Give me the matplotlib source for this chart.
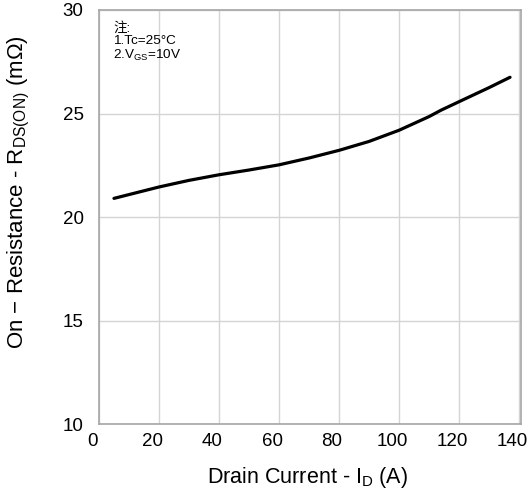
import matplotlib
matplotlib.use("Agg")
import matplotlib.pyplot as plt
import matplotlib.transforms as mtransforms

plt.rcParams['font.family'] = ['Liberation Sans', 'Noto Sans CJK SC', 'DejaVu Sans']
plt.rcParams['mathtext.fontset'] = 'custom'
plt.rcParams['mathtext.rm'] = 'Liberation Sans'
plt.rcParams['mathtext.it'] = 'Liberation Sans'

GRID = "#d4d4d4"
SPINE = "#a6a6a6"

# drain current (A) vs on-resistance (mOhm)
drain_current = [5, 20, 30, 40, 50, 60, 70, 80, 90, 100, 110, 114, 120, 130, 137]
on_resistance = [20.9, 21.45, 21.77, 22.04, 22.27, 22.52, 22.85, 23.22, 23.65, 24.19, 24.85, 25.16, 25.57, 26.25, 26.75]

x_ticks = [0, 20, 40, 60, 80, 100, 120, 140]
y_ticks = [10, 15, 20, 25, 30]

fig = plt.figure(figsize=(5.29, 4.95), dpi=100)
ax = fig.add_axes([0.1871, 0.1434, 0.7969, 0.8364])

ax.plot(drain_current, on_resistance, color="black", lw=2.3, solid_capstyle="round")

ax.set_xlim(0, 140.5)
ax.set_ylim(10, 30)
ax.set_xticks(x_ticks)
ax.set_yticks(y_ticks)
ax.grid(color=GRID, lw=1.0)
ax.set_axisbelow(True)
for s in ax.spines.values():
    s.set_color(SPINE)
    s.set_linewidth(1.2)
ax.tick_params(axis='both', length=0, labelsize=13.5)
ax.tick_params(axis='x', pad=6.5)
ax.tick_params(axis='y', pad=11)

# excel-ish: x tick labels sit a bit left of their gridline
shift = mtransforms.ScaledTranslation(-5 / 72, 0, fig.dpi_scale_trans)
for lbl in ax.get_xticklabels():
    lbl.set_transform(lbl.get_transform() + shift)

ax.set_xlabel(r'Drain Current - I$_{\mathrm{D}}$ (A)', fontsize=15.5)
ax.set_ylabel(r'On $-$ Resistance - R$_{\mathrm{DS(ON)}}$ (m$\Omega$)', fontsize=16)
ax.xaxis.set_label_coords(0.495, -0.1)
ax.yaxis.set_label_coords(-0.16, 0.56)

note_kw = dict(transform=ax.transAxes, fontsize=9.7, va="top")
ax.text(0.033, 0.972, "注:", **note_kw)
ax.text(0.033, 0.94, "1.Tc=25°C", **note_kw)
ax.text(0.033, 0.909, r"2.V$_{\mathrm{GS}}$=10V", **note_kw)

fig.savefig("out.png", dpi=100)
